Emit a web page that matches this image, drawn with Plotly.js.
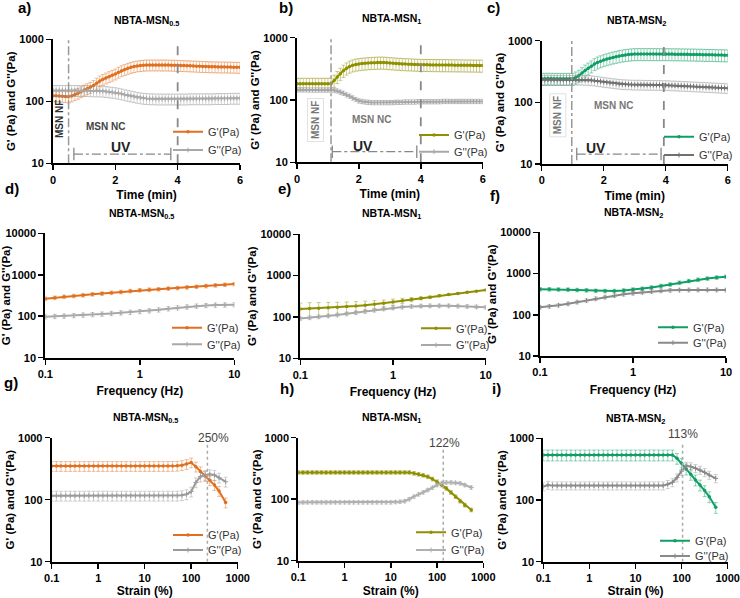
<!DOCTYPE html>
<html><head><meta charset="utf-8">
<script src="https://cdn.plot.ly/plotly-3.0.1.min.js"></script>
<style>html,body{margin:0;padding:0;background:#fff}#c{width:740px;height:598px}</style>
</head><body><div id="c"></div>
<script>
// ---------- DATA ----------
const time = [0,0.1,0.2,0.3,0.4,0.5,0.6,0.7,0.8,0.9,1,1.1,1.2,1.3,1.4,1.5,1.6,1.7,1.8,1.9,2,2.1,2.2,2.3,2.4,2.5,2.6,2.7,2.8,2.9,3,3.1,3.2,3.3,3.4,3.5,3.6,3.7,3.8,3.9,4,4.1,4.2,4.3,4.4,4.5,4.6,4.7,4.8,4.9,5,5.1,5.2,5.3,5.4,5.5,5.6,5.7,5.8,5.9,6];
const aGp = [123,123,122,121,120,118,122,128,135,143,152,160,168,180,196,213,226,238,250,263,276,295,312,326,340,353,364,372,378,382,385,386,386,386,386,385,385,384,383,382,380,378,377,375,373,371,369,367,365,364,362,361,360,359,358,358,357,356,355,354,353];
const aGpp = [149,149,150,150,150,150,150,150,150,149,149,149,148,148,147,147,146,144,142,140,138,135,132,128,125,122,119,116,114,112,111,110,110,109,109,109,109,109,109,109,109,109,109,109,110,110,110,110,110,110,110,110,111,111,111,111,111,112,112,112,112];
const bGp = [183,183,183,183,183,183,183,183,183,183,183,183,205,235,265,296,322,345,361,372,378,384,388,392,395,397,399,401,400,396,392,389,386,383,380,378,376,374,372,370,368,367,367,366,366,365,365,364,364,363,363,362,362,361,361,360,360,359,359,358,358];
const bGpp = [146,146,146,146,145,145,145,145,145,145,145,145,143,140,134,128,121,115,108,102,97,95,93,92,91,91,91,91,91,91,91,91,92,92,92,93,93,93,93,94,94,94,94,94,94,94,94,95,95,95,95,95,95,95,95,95,95,95,95,95,95];
const cGp = [242,242,243,243,242,242,242,242,242,242,242,255,272,300,330,356,385,419,445,466,486,503,520,536,550,564,577,588,597,603,608,609,609,609,609,609,609,608,608,608,608,607,606,605,604,603,602,601,600,599,597,595,594,592,591,589,587,585,584,582,580];
const cGpp = [232,232,232,232,232,232,232,232,232,232,232,233,233,232,231,230,228,225,222,218,214,211,208,205,202,199,197,196,195,194,193,193,193,192,192,192,191,191,191,190,190,189,188,187,186,185,184,183,182,181,180,179,178,177,176,175,174,173,172,171,169];

const freq = [0.1,0.126,0.158,0.2,0.251,0.316,0.398,0.501,0.631,0.794,1,1.26,1.58,2,2.51,3.16,3.98,5.01,6.31,7.94,10];
const dGp = [265,280,295,308,322,338,352,368,385,405,425,438,450,465,480,498,515,535,555,575,595];
const dGpp = [97,99,101,104,107,110,113,117,121,125,130,136,143,152,160,168,176,182,186,188,190];
const eGp = [156,160,163,167,172,178,185,193,203,215,230,248,265,283,302,325,348,372,395,420,450];
const eGpErr = [60,62,60,58,55,52,50,48,45,42,40,35,30,25,20,18,15,12,10,10,10];
const eGpp = [92,96,101,106,112,119,127,136,146,157,166,174,180,184,186,186,186,184,180,176,172];
const fGp = [415,415,412,408,400,392,383,377,377,390,410,430,460,500,545,600,660,710,755,800,840];
const fGpp = [152,160,170,185,203,222,245,268,292,315,333,350,368,382,392,398,400,402,402,400,398];

const strain = [0.1,0.126,0.158,0.2,0.251,0.316,0.398,0.501,0.631,0.794,1,1.26,1.58,2,2.51,3.16,3.98,5.01,6.31,7.94,10,12.6,15.8,20,25.1,31.6,39.8,50.1,63.1,79.4,100,126,158,200,251,316,398,550];
const gGp = [349,349,349,349,349,349,349,349,349,349,349,349,349,349,349,349,349,349,349,349,349,349,349,349,349,349,350,352,360,375,398,341,286,241,205,172,138,90];
const gGpp = [116,116,116,116,116,116,116,116,116,116,116,116,116,116,116,116,116,116,116,116,116,116,116,116,116,116,116,116,118,122,135,190,235,250,257,250,226,195];
const hGp = [273,273,273,273,273,273,273,273,273,273,273,273,273,273,273,273,273,273,273,273,273,273,273,273,273,263,254,245,232,213,193,170,150,129,110,93,80,67];
const hGpp = [88,89,89,89,89,89,89,89,89,89,89,89,89,89,89,89,89,89,89,89,89,90,91,93,100,110,120,129,141,154,170,181,187,187,185,181,170,155];
const iGp = [537,537,537,537,537,537,537,537,537,537,537,537,537,537,537,537,537,537,537,537,537,537,537,537,537,537,537,537,537,474,393,318,261,211,175,142,113,76];
const iGpp = [165,175,171,171,171,171,171,171,171,171,171,171,171,171,171,171,171,171,171,171,171,171,171,171,171,171,171,180,193,230,295,356,349,327,306,281,254,224];

// error (% of value): [G', G'']
const errPct = {a:[20,20], b:[22,8], c:[22,18], d:[10,12], e:[15,10], f:[10,10], g:[18,18], h:[7,6], i:[20,15]};

// annotation values
const titles = ['NBTA-MSN<sub>0.5</sub>','NBTA-MSN<sub>1</sub>','NBTA-MSN<sub>2</sub>'];
const nfLine = [0.5, 1.1, 0.97];      // end of MSN NF phase (min)
const uvEnd = [4.0, 4.0, 3.94];       // end of UV exposure (min)
const uvBracket = [[0.67,3.78],[1.14,3.87],[1.13,3.85]];
const uvLevel = [14.1, 14.8, 14.5];
const crossStrain = [223, 136, 105];
const crossLabel = ['250%','122%','113%'];
const crossTop = [800, 680, 870];
const legendNames = ["G'(Pa)", "G''(Pa)"];

// ---------- STYLE / LAYOUT ----------
const W = 740, H = 598;
const px = x => x / W, py = y => 1 - y / H;
const boxes = [
  [53,240,39.3,163.3],[297,482.7,37.7,162.3],[541.7,727.7,40.7,164],
  [45.3,234.3,233.3,357.7],[300.3,485.7,234.3,358.3],[540,726,232.3,356],
  [51.7,237.7,437.7,561.7],[298.3,483.3,437.7,560.7],[543.3,727.7,438.3,561.7]];
const colGp = ['#E07020','#8F8F00','#119E66'];
const colGpErr = ['rgba(224,112,32,0.45)','rgba(143,143,0,0.45)','rgba(17,158,102,0.45)'];
const colGppRow = [['#A8A8A8','#A8A8A8','#707070'],['#A8A8A8','#A8A8A8','#8A8A8A'],['#9A9A9A','#B0B0B0','#8A8A8A']];
const FONT = 'Liberation Sans, Arial, sans-serif';

const series = [
  [time,aGp,aGpp,'a'],[time,bGp,bGpp,'b'],[time,cGp,cGpp,'c'],
  [freq,dGp,dGpp,'d'],[freq,eGp,eGpp,'e'],[freq,fGp,fGpp,'f'],
  [strain,gGp,gGpp,'g'],[strain,hGp,hGpp,'h'],[strain,iGp,iGpp,'i']];

const traces = [];
const layout = {width:W, height:H, margin:{l:0,r:0,t:0,b:0}, paper_bgcolor:'#fff', plot_bgcolor:'rgba(0,0,0,0)',
  font:{family:FONT,color:'#000'}, annotations:[], shapes:[], showlegend:true};
// legend rows: [text start x, row1 y, row2 y]
const legendPos = [[208,131.7,150],[454,135,151.7],[699,136.7,155],[207,327.7,344.3],[456,328.3,345],[693,327.3,342.7],[208,535,550],[451,532.3,550],[695,540.7,556]];
const titlePos = [[146.7,20.7],[391.7,19.3],[636.7,20.7],[141.7,214],[391.7,214],[633.3,213.3],[145,417.7],[391.7,417.7],[635,419]];

function ann(text, x, y, font, extra) {
  return Object.assign({text:text, x:px(x), y:py(y), xref:'paper', yref:'paper', xanchor:'center', yanchor:'middle',
    showarrow:false, font:Object.assign({family:FONT}, font)}, extra || {});
}

series.forEach((s, k) => {
  const col = k % 3, row = Math.floor(k / 3);
  const xa = k === 0 ? 'x' : 'x' + (k + 1);
  const ya = k === 0 ? 'y' : 'y' + (k + 1);
  const lg1 = k === 0 ? 'legend' : 'legend' + (2 * k + 1);
  const lg2 = 'legend' + (2 * k + 2);
  const e = errPct[s[3]];
  const cpp = colGppRow[row][col];
  const errGp = s[3] === 'e'
    ? {type:'data', array:eGpErr, color:colGpErr[col], thickness:1, width:2}
    : {type:'percent', value:e[0], color:colGpErr[col], thickness:1, width:2};
  traces.push({x:s[0], y:s[1], xaxis:xa, yaxis:ya, legend:lg1, name:legendNames[0], type:'scatter', mode:'lines+markers',
    line:{color:colGp[col], width:2}, marker:{color:colGp[col], size:3.5, symbol:'circle'}, error_y:errGp});
  traces.push({x:s[0], y:s[2], xaxis:xa, yaxis:ya, legend:lg2, name:legendNames[1], type:'scatter', mode:'lines+markers',
    line:{color:cpp, width:2}, marker:{color:cpp, size:3.5, symbol:'cross-thin', line:{color:cpp,width:1}},
    error_y:{type:'percent', value:e[1], color:'rgba(140,140,140,0.4)', thickness:1, width:2}});

  const b = boxes[k];
  const xaxKey = k === 0 ? 'xaxis' : 'xaxis' + (k + 1);
  const yaxKey = k === 0 ? 'yaxis' : 'yaxis' + (k + 1);
  const common = {showline:true, linecolor:'#000', linewidth:2, ticks:'outside', ticklen:5, tickwidth:1.5, tickcolor:'#000',
    showgrid:false, zeroline:false, tickfont:{family:FONT, size:11, color:'#000', weight:'bold'}};
  let xax, yax;
  if (row === 0) {
    xax = Object.assign({}, common, {range:[0,6], tickmode:'array', tickvals:[0,2,4,6], ticktext:['0','2','4','6'],
      title:{text:'Time (min)', font:{family:FONT,size:12,weight:'bold'}, standoff:6}});
    yax = Object.assign({}, common, {type:'log', range:[1,3], tickmode:'array', tickvals:[10,100,1000], ticktext:['10','100','1000']});
  } else if (row === 1) {
    xax = Object.assign({}, common, {type:'log', range:[-1,1], tickmode:'array', tickvals:[0.1,1,10], ticktext:['0.1','1','10'],
      title:{text:'Frequency (Hz)', font:{family:FONT,size:12,weight:'bold'}, standoff:8}});
    yax = Object.assign({}, common, {type:'log', range:[1,4], tickmode:'array', tickvals:[10,100,1000,10000], ticktext:['10','100','1000','10000']});
  } else {
    xax = Object.assign({}, common, {type:'log', range:[-1,3], tickmode:'array', tickvals:[0.1,1,10,100,1000], ticktext:['0.1','1','10','100','1000'],
      title:{text:'Strain (%)', font:{family:FONT,size:12,weight:'bold'}, standoff:6}});
    yax = Object.assign({}, common, {type:'log', range:[1,3], tickmode:'array', tickvals:[10,100,1000], ticktext:['10','100','1000']});
  }
  xax.domain = [px(b[0]), px(b[1])]; xax.anchor = ya;
  yax.domain = [py(b[3]), py(b[2])]; yax.anchor = xa;
  yax.title = {text:"G' (Pa) and G''(Pa)", font:{family:FONT,size:11.5,weight:'bold'}, standoff:1};
  layout[xaxKey] = xax; layout[yaxKey] = yax;

  const lp = legendPos[k];
  [[lg1, lp[1]], [lg2, lp[2]]].forEach(p => {
    layout[p[0]] = {x:px(lp[0] - 40), y:py(p[1]), xref:'paper', yref:'paper', xanchor:'left', yanchor:'middle',
      bgcolor:'rgba(0,0,0,0)', font:{family:FONT, size:11, color:'#333'}, itemwidth:30, tracegroupgap:0, borderwidth:0};
  });

  const tp = titlePos[k];
  layout.annotations.push(ann('<b>'+titles[col]+'</b>', tp[0], tp[1], {size:10.5, color:'#000'}));
});

// panel letters
const letters = [['a)',24,8],['b)',286,8],['c)',494,8],['d)',12,188],['e)',284,188],['f)',495,195],['g)',11,382],['h)',287,388],['i)',496,388]];
letters.forEach(l => layout.annotations.push(ann('<b>'+l[0]+'</b>', l[1], l[2], {size:15, color:'#000'})));

// time-sweep annotations (row 1)
const nfTxt = [[60,119,'#333'],[316,120,'#777'],[558.3,115,'#777']];
const ncTxt = [[105.7,126.7,'#444'],[371.7,120,'#777'],[613.3,105.7,'#777']];
const uvTxt = [[120.7,146.7],[363.3,145.7],[596,148.3]];
for (let k = 0; k < 3; k++) {
  const xa = k === 0 ? 'x' : 'x' + (k + 1);
  const ya = k === 0 ? 'y' : 'y' + (k + 1);
  traces.push({x:[nfLine[k],nfLine[k]], y:[10,1000], xaxis:xa, yaxis:ya, mode:'lines', showlegend:false, hoverinfo:'skip',
    line:{color:'#999', width:1.5, dash:'dashdot'}});
  traces.push({x:[uvEnd[k],uvEnd[k]], y:[10,1000], xaxis:xa, yaxis:ya, mode:'lines', showlegend:false, hoverinfo:'skip',
    line:{color:'#888', width:1.8, dash:'dash'}});
  traces.push({x:uvBracket[k], y:[uvLevel[k],uvLevel[k]], xaxis:xa, yaxis:ya, mode:'lines+markers', showlegend:false, hoverinfo:'skip',
    line:{color:'#888', width:1.3, dash:'dashdot'}, marker:{symbol:'line-ns-open', size:9, color:'#888', line:{color:'#888',width:1.3}}});
  layout.annotations.push(ann('<b>MSN NF</b>', nfTxt[k][0], nfTxt[k][1], {size:10, color:nfTxt[k][2]},
    {textangle:-90, bordercolor: k === 0 ? 'rgba(0,0,0,0)' : '#e2e2e2', borderwidth:1, borderpad:2}));
  layout.annotations.push(ann('<b>MSN NC</b>', ncTxt[k][0], ncTxt[k][1], {size:10, color:ncTxt[k][2]}));
  layout.annotations.push(ann('<b>UV</b>', uvTxt[k][0], uvTxt[k][1], {size:14, color:'#222'}));
}
// strain crossover lines (row 3)
const crossTxt = [[213.3,438.3],[444,443.3],[683.3,434.3]];
for (let k = 0; k < 3; k++) {
  const xa = 'x' + (k + 7), ya = 'y' + (k + 7);
  traces.push({x:[crossStrain[k],crossStrain[k]], y:[10,crossTop[k]], xaxis:xa, yaxis:ya, mode:'lines', showlegend:false, hoverinfo:'skip',
    line:{color:'#aaa', width:1.5, dash:'dot'}});
  layout.annotations.push(ann(crossLabel[k], crossTxt[k][0], crossTxt[k][1], {size:12, color:'#444'}));
}

Plotly.newPlot('c', traces, layout, {staticPlot:true, displayModeBar:false});
</script></body></html>
